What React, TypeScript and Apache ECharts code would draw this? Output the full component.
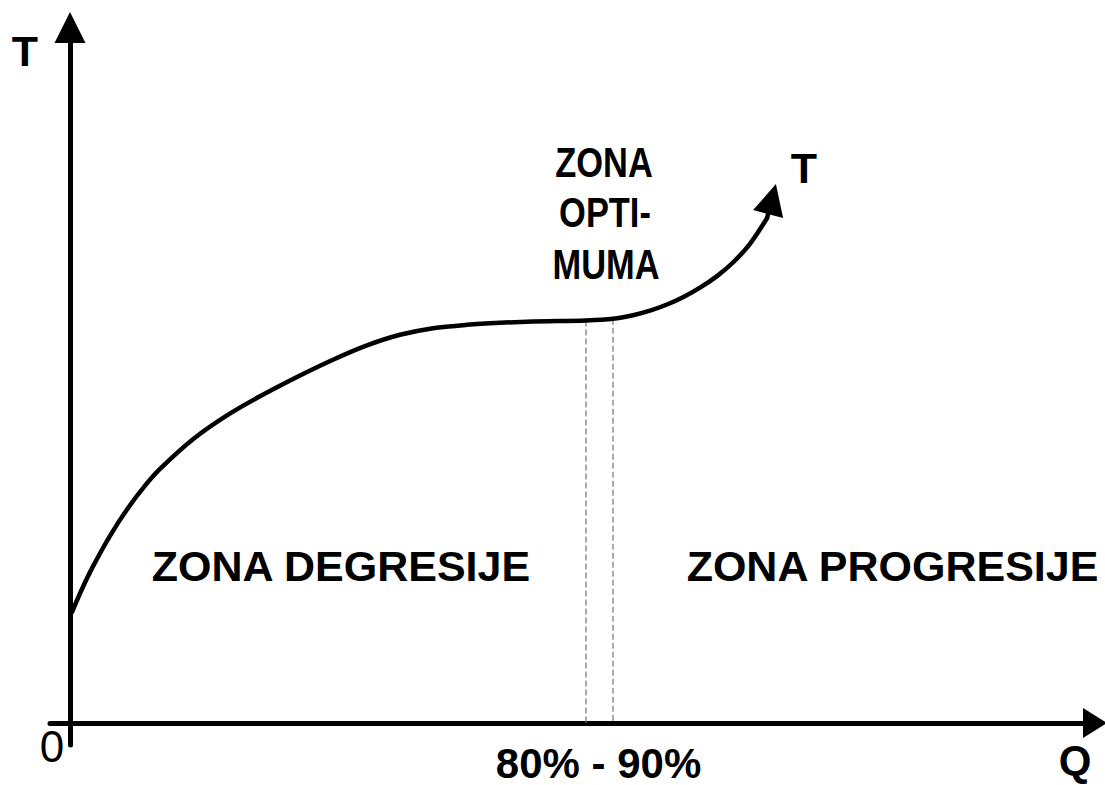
import React, { useEffect, useRef } from "react";
import * as echarts from "echarts";

// Curve T(Q) (arbitrary units)
const curveQ = [0.2, 1.2, 2.3, 4.0, 5.7, 7.5, 9.0, 12.3, 15.7, 19.0, 23.0, 26.3, 29.7, 33.0, 36.3, 39.7, 43.0, 46.3, 51.6, 54.3, 56.3, 58.0, 59.7, 61.4, 63.0, 64.7, 66.3, 68.0, 69.7];
const curveT = [11.1, 13.4, 15.66, 18.72, 21.35, 23.73, 25.41, 28.38, 30.76, 32.67, 34.75, 36.33, 37.76, 38.82, 39.48, 39.82, 40.02, 40.15, 40.26, 40.42, 40.78, 41.24, 41.85, 42.63, 43.53, 44.69, 46.05, 47.92, 50.47];
// arrowhead segment at the end of the curve
const arrowQ = [69.7, 70.2];
const arrowT = [50.47, 52.4];
// optimum zone boundaries (80% and 90%)
const optimumQ = [51.6, 54.3];
const optimumTopT = [40.26, 40.42];

const labels = {
  yName: "T",
  xName: "Q",
  origin: "0",
  curveName: "T",
  optimum: ["ZONA", "OPTI-", "MUMA"],
  degression: "ZONA DEGRESIJE",
  progression: "ZONA PROGRESIJE",
  range: "80% - 90%",
};

const FONT = "'Liberation Sans', Arial, sans-serif";

export default function App() {
  const ref = useRef<HTMLDivElement>(null);
  useEffect(() => {
    if (!ref.current) return;
    const chart = echarts.init(ref.current, undefined, { renderer: "svg" });
    const curve = curveQ.map((q, i) => [q, curveT[i]]);
    const dashed = optimumQ.map((q, i) => ({
      type: "line",
      data: [
        [q, optimumTopT[i]],
        [q, 0],
      ],
      symbol: "none",
      lineStyle: { color: "#7f7f7f", width: 1.3, type: [6, 3] },
      z: 1,
    }));
    const bold = (size: number) => `bold ${size}px ${FONT}`;
    const txt = (text: string, x: number, y: number, font: string, scaleX = 1) => ({
      type: "text",
      x,
      y,
      scaleX,
      style: {
        text,
        font,
        fill: "#000",
        textAlign: "center",
        textVerticalAlign: "middle",
      },
      z: 10,
    });
    chart.setOption({
      animation: false,
      backgroundColor: "#fff",
      grid: { left: 50, right: 10, top: 27.5, bottom: 40 },
      xAxis: {
        type: "value",
        min: -2,
        max: 102.5,
        axisLine: {
          onZero: true,
          symbol: ["none", "triangle"],
          symbolSize: [30, 24],
          lineStyle: { color: "#000", width: 5 },
        },
        axisTick: { show: false },
        axisLabel: { show: false },
        splitLine: { show: false },
      },
      yAxis: {
        type: "value",
        min: -2.2,
        max: 69.55,
        axisLine: {
          onZero: true,
          symbol: ["none", "triangle"],
          symbolSize: [31, 31],
          lineStyle: { color: "#000", width: 5 },
        },
        axisTick: { show: false },
        axisLabel: { show: false },
        splitLine: { show: false },
      },
      series: [
        ...dashed,
        {
          type: "line",
          data: curve,
          smooth: 0.3,
          symbol: "none",
          lineStyle: { color: "#000", width: 4.5, cap: "round", join: "round" },
          z: 3,
        },
        {
          type: "lines",
          coordinateSystem: "cartesian2d",
          data: [
            {
              coords: arrowQ.map((q, i) => [q, arrowT[i]]),
            },
          ],
          symbol: ["none", "triangle"],
          symbolSize: 31,
          lineStyle: { color: "#000", width: 4.5, opacity: 1 },
          itemStyle: { color: "#000" },
          z: 4,
        },
      ],
      graphic: [
        txt(labels.yName, 25, 50.5, bold(43)),
        txt(labels.curveName, 804, 167.5, bold(43)),
        txt(labels.origin, 52, 746, `${44}px ${FONT}`),
        txt(labels.xName, 1075, 760, bold(42)),
        txt(labels.range, 598.5, 763, bold(42)),
        txt(labels.degression, 341, 566, bold(43)),
        txt(labels.progression, 892.5, 566, bold(43)),
        txt(labels.optimum[0], 604, 162.5, bold(42), 0.82),
        txt(labels.optimum[1], 605, 212.5, bold(42), 0.82),
        txt(labels.optimum[2], 606, 264.5, bold(42), 0.82),
      ],
    });
    return () => chart.dispose();
  }, []);
  return (
    <div
      ref={ref}
      style={{ position: "fixed", left: 0, top: 0, width: 1105, height: 785 }}
    />
  );
}
